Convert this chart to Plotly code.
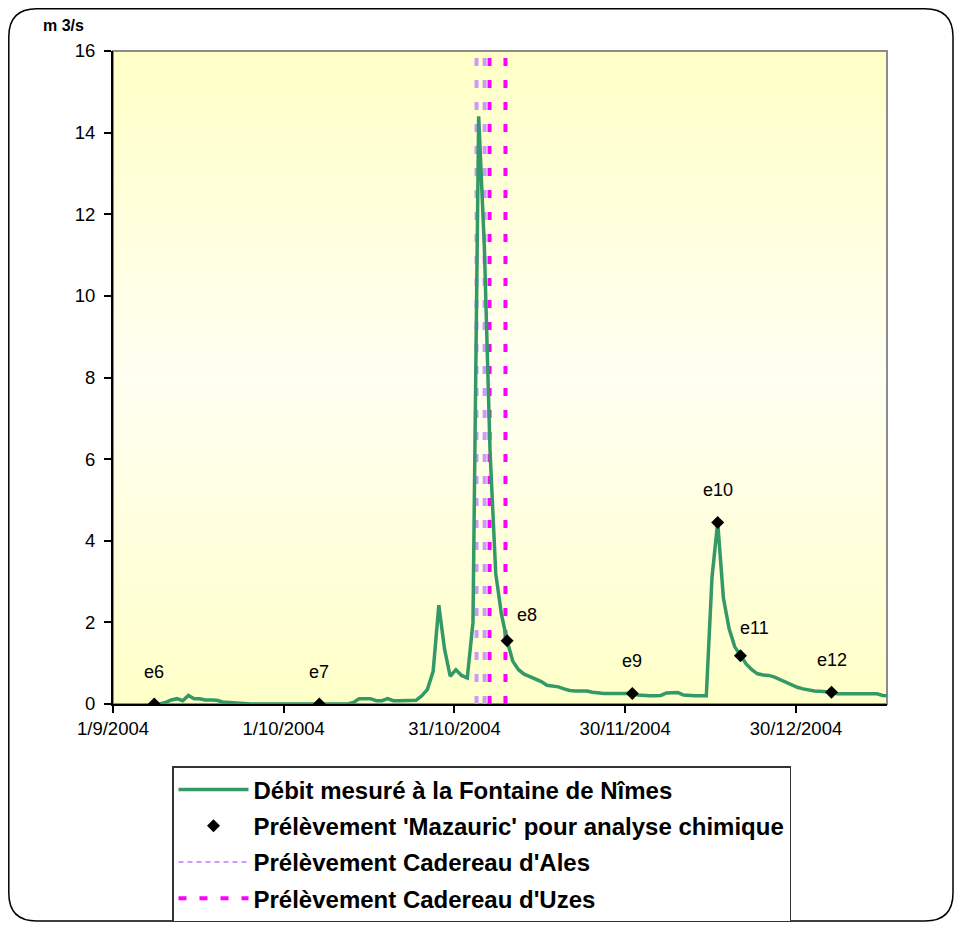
import base64
import pandas as pd
import plotly.graph_objects as go

# ---------------- data ----------------
flow_start = "2004-09-08 06:00"
flow_values = [
    0, 0, 0.04, 0.10, 0.13, 0.08, 0.21, 0.13, 0.13, 0.10, 0.10, 0.09, 0.05, 0.04, 0.01,
    0, 0, 0, 0, 0, 0, 0, 0, 0, 0, 0, 0, 0, 0, 0, 0, 0, 0, 0, 0,
    0.04, 0.13, 0.13, 0.13, 0.08, 0.08, 0.13, 0.08, 0.08, 0.08, 0.08, 0.09,
    0.20, 0.36, 0.80, 2.42, 1.35, 0.68, 0.84, 0.70, 0.64, 2.00,
    14.4, 11.2, 6.2, 3.2, 2.2, 1.55, 1.05, 0.84, 0.73, 0.67, 0.62, 0.55, 0.46, 0.44,
    0.42, 0.37, 0.33, 0.32, 0.32, 0.32, 0.29, 0.27, 0.26, 0.26, 0.26, 0.26, 0.26, 0.26,
    0.22, 0.20, 0.20, 0.20, 0.21, 0.27, 0.28, 0.28, 0.22, 0.20, 0.20, 0.20, 0.20,
    3.1, 4.45, 2.6, 1.85, 1.4, 1.18, 0.98, 0.84, 0.74, 0.71, 0.70, 0.66, 0.60, 0.52,
    0.46, 0.41, 0.37, 0.34, 0.32, 0.31, 0.30, 0.29, 0.25, 0.25, 0.25, 0.25, 0.25, 0.25,
    0.25, 0.25, 0.21, 0.20,
]
flow_dates = pd.date_range(flow_start, periods=len(flow_values), freq="D")

sample_dates = ["2004-09-08 06:00", "2004-10-07 06:00", "2004-11-09 06:00", "2004-12-01 06:00",
                "2004-12-16 06:00", "2004-12-20 06:00", "2005-01-05 06:00"]
sample_values = [0, 0, 1.55, 0.26, 4.45, 1.18, 0.29]
sample_labels = ["e6", "e7", "e8", "e9", "e10", "e11", "e12"]

ales_dates = ["2004-11-03 21:00", "2004-11-05 07:00"]
uzes_dates = ["2004-11-06 04:00", "2004-11-08 23:00"]

tick_dates = ["2004-09-01", "2004-10-01", "2004-10-31", "2004-11-30", "2004-12-30"]
tick_labels = ["1/9/2004", "1/10/2004", "31/10/2004", "30/11/2004", "30/12/2004"]
x_range = ["2004-09-01", "2005-01-15"]
y_range = [0, 16]

names = ["Débit mesuré à la Fontaine de Nîmes",
         "Prélèvement 'Mazauric' pour analyse chimique",
         "Prélèvement Cadereau d'Ales",
         "Prélèvement Cadereau d'Uzes"]

# ---------------- layout constants ----------------
OFF = 8                      # page body margin
W, H = 946, 914
L, R, T, B = 105, 67, 43, 218
PW, PH = W - L - R, H - T - B
FONT = "Arial, Liberation Sans, sans-serif"


def px(x):
    """screen x (px) -> paper x"""
    return (x - OFF - L) / PW


def py(y):
    """screen y (px) -> paper y"""
    return (H - B - (y - OFF)) / PH


def vlines(dates):
    xs, ys = [], []
    for d in dates:
        xs += [d, d, None]
        ys += [y_range[0], y_range[1], None]
    return xs, ys


fig = go.Figure()

ax, ay = vlines(ales_dates)
fig.add_trace(go.Scatter(x=ax, y=ay, mode="lines", showlegend=False, hoverinfo="skip",
                         line=dict(color="#CC99FF", width=4, dash="8px,14px")))
ux, uy = vlines(uzes_dates)
fig.add_trace(go.Scatter(x=ux, y=uy, mode="lines", showlegend=False, hoverinfo="skip",
                         line=dict(color="#FF00FF", width=4, dash="8px,14px")))

fig.add_trace(go.Scatter(x=flow_dates, y=flow_values, mode="lines", name=names[0],
                         legendgroup="a",
                         line=dict(color="#339966", width=3.5)))
fig.add_trace(go.Scatter(x=sample_dates, y=sample_values, mode="markers", name=names[1],
                         legendgroup="b",
                         marker=dict(symbol="diamond", size=10, color="black")))
# legend proxies for the vertical lines
fig.add_trace(go.Scatter(x=[None], y=[None], mode="lines", name=names[2],
                         legendgroup="c",
                         line=dict(color="#CC99FF", width=2, dash="5px,4px")))
fig.add_trace(go.Scatter(x=[None], y=[None], mode="lines", name=names[3],
                         legendgroup="d",
                         line=dict(color="#FF00FF", width=4, dash="8px,13px")))

# sample labels
label_shift = {"e8": (20, 26), "e11": (14, 28)}
for d, v, lab in zip(sample_dates, sample_values, sample_labels):
    xs, ys = label_shift.get(lab, (0, 32))
    fig.add_annotation(x=d, y=v, text=lab, showarrow=False, xshift=xs, yshift=ys,
                       xanchor="center", yanchor="middle",
                       font=dict(family=FONT, size=18, color="black"))

# unit label
fig.add_annotation(xref="paper", yref="paper", x=px(63), y=py(25), text="m 3/s",
                   xanchor="center", yanchor="middle", showarrow=False,
                   font=dict(family=FONT, size=16, color="black", weight="bold"))

# gradient background
svg = ("<svg xmlns='http://www.w3.org/2000/svg' width='10' height='100' viewBox='0 0 10 100' "
       "preserveAspectRatio='none'><defs><linearGradient id='g' x1='0' y1='0' x2='0' y2='1'>"
       "<stop offset='0' stop-color='#FFFFC6'/><stop offset='0.5' stop-color='#FFFFF2'/>"
       "<stop offset='1' stop-color='#FFFFC8'/></linearGradient></defs>"
       "<rect width='10' height='100' fill='url(#g)'/></svg>")
uri = "data:image/svg+xml;base64," + base64.b64encode(svg.encode()).decode()
fig.add_layout_image(source=uri, xref="paper", yref="paper", x=0, y=1, sizex=1, sizey=1,
                     xanchor="left", yanchor="top", sizing="stretch", layer="below")

# plot-area border (gray)
fig.add_shape(type="rect", xref="paper", yref="paper", x0=0, y0=0, x1=1, y1=1,
              line=dict(color="#8C8C8C", width=2), layer="below")

# outer rounded chart border (screen coordinates)
x0p, x1p, y0p, y1p, rr = 8.8, 953, 8.8, 921, 28
path = (f"M{px(x0p + rr)},{py(y0p)} L{px(x1p - rr)},{py(y0p)} "
        f"Q{px(x1p)},{py(y0p)} {px(x1p)},{py(y0p + rr)} "
        f"L{px(x1p)},{py(y1p - rr)} Q{px(x1p)},{py(y1p)} {px(x1p - rr)},{py(y1p)} "
        f"L{px(x0p + rr)},{py(y1p)} Q{px(x0p)},{py(y1p)} {px(x0p)},{py(y1p - rr)} "
        f"L{px(x0p)},{py(y0p + rr)} Q{px(x0p)},{py(y0p)} {px(x0p + rr)},{py(y0p)} Z")
fig.add_shape(type="path", xref="paper", yref="paper", path=path,
              line=dict(color="black", width=1.5))

axis_common = dict(showgrid=False, zeroline=False, showline=True, linecolor="black",
                   linewidth=2, ticks="outside", ticklen=7, tickwidth=1.5, tickcolor="black",
                   tickfont=dict(family=FONT, size=18.5, color="black"))

fig.update_layout(
    width=W, height=H,
    margin=dict(l=L, r=R, t=T, b=B, autoexpand=False),
    paper_bgcolor="white", plot_bgcolor="#FFFFE0",
    xaxis=dict(type="date", range=x_range, tickmode="array", tickvals=tick_dates,
               ticktext=tick_labels, **axis_common),
    yaxis=dict(range=y_range, tick0=0, dtick=2, ticklabelstandoff=5, **axis_common),
    showlegend=True,
    legend=dict(x=px(172), y=py(766), xanchor="left", yanchor="top",
                bordercolor="#333333", borderwidth=1.5, bgcolor="white",
                font=dict(family=FONT, size=24, color="black", weight="bold"),
                itemwidth=70, tracegroupgap=2, traceorder="grouped"),
)

fig.write_html("out.html")
